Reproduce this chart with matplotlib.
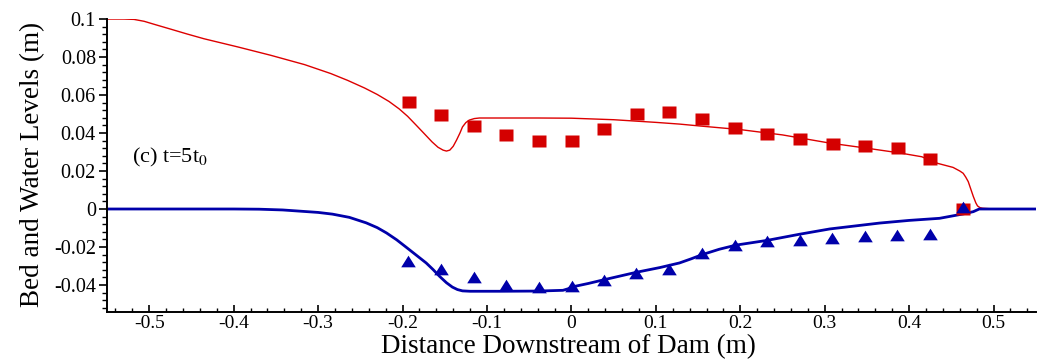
import matplotlib
matplotlib.use("Agg")
import matplotlib.pyplot as plt
from matplotlib.path import Path
from matplotlib.ticker import MultipleLocator, FixedLocator, FixedFormatter

plt.rcParams['font.family'] = ['Liberation Serif', 'DejaVu Serif']
plt.rcParams['mathtext.fontset'] = 'stix'

# Measured water level (squares)
water_x = [-0.192, -0.154, -0.115, -0.077, -0.038, 0.001, 0.039, 0.078, 0.116,
           0.155, 0.194, 0.232, 0.271, 0.310, 0.348, 0.387, 0.425, 0.464]
water_y = [0.0563, 0.0495, 0.0437, 0.0390, 0.0358, 0.0358, 0.0420, 0.0500, 0.0510,
           0.0474, 0.0426, 0.0395, 0.0368, 0.0342, 0.0332, 0.0320, 0.0263, 0.0000]

# Measured bed level (triangles)
bed_x = [-0.193, -0.154, -0.115, -0.077, -0.038, 0.001, 0.039, 0.077, 0.116,
         0.155, 0.194, 0.232, 0.271, 0.309, 0.348, 0.386, 0.425, 0.464]
bed_y = [-0.0274, -0.0316, -0.0358, -0.0400, -0.0410, -0.0405, -0.0374, -0.0337, -0.0316,
         -0.0230, -0.0190, -0.0168, -0.0163, -0.0153, -0.0142, -0.0137, -0.0132, 0.0010]

# Computed water surface (red line)
wl_x = [-0.55, -0.530, -0.518, -0.506, -0.494, -0.474, -0.455, -0.435, -0.395, -0.356,
        -0.316, -0.285, -0.265, -0.245, -0.230, -0.216, -0.204, -0.194, -0.184, -0.175,
        -0.165, -0.158, -0.152, -0.148, -0.144, -0.140, -0.136, -0.132, -0.129, -0.125,
        -0.121, -0.115, -0.109, -0.085, -0.04, 0.0, 0.05, 0.10, 0.128, 0.152, 0.20, 0.25,
        0.306, 0.35, 0.389, 0.415, 0.434, 0.452, 0.460, 0.464, 0.467, 0.470, 0.473, 0.476,
        0.479, 0.481, 0.484, 0.487, 0.50, 0.55]
wl_y = [0.1, 0.1, 0.0998, 0.0988, 0.0972, 0.0946, 0.0921, 0.0896, 0.0853, 0.0809,
        0.0760, 0.0713, 0.0677, 0.0637, 0.0603, 0.0566, 0.0527, 0.0488, 0.0442, 0.0400,
        0.0353, 0.0325, 0.0310, 0.0305, 0.0310, 0.0330, 0.0363, 0.0400, 0.0432, 0.0455,
        0.0468, 0.0476, 0.0479, 0.0479, 0.0479, 0.0478, 0.0470, 0.0456, 0.0447, 0.0437,
        0.0418, 0.0390, 0.0347, 0.0320, 0.0295, 0.0275, 0.0240, 0.0219, 0.0200, 0.0188,
        0.0168, 0.0144, 0.0105, 0.0066, 0.0032, 0.0016, 0.0007, 0.0004, 0.0, 0.0]

# Computed bed (blue line)
bl_x = [-0.55, -0.40, -0.37, -0.342, -0.30, -0.283, -0.263, -0.243, -0.230, -0.219,
        -0.207, -0.196, -0.184, -0.172, -0.164, -0.156, -0.148, -0.141, -0.135, -0.129,
        -0.120, -0.085, -0.04, -0.010, -0.004, 0.001, 0.020, 0.037, 0.077, 0.105, 0.128,
        0.142, 0.155, 0.175, 0.195, 0.232, 0.27, 0.306, 0.365, 0.40, 0.436, 0.464, 0.476,
        0.483, 0.50, 0.55]
bl_y = [0.0, 0.0, -0.0001, -0.0005, -0.0018, -0.0027, -0.0044, -0.0073, -0.0098, -0.0126,
        -0.0162, -0.0200, -0.0242, -0.0284, -0.0318, -0.0355, -0.0388, -0.0411, -0.0424,
        -0.0431, -0.0433, -0.0433, -0.0432, -0.0428, -0.0420, -0.0410, -0.0392, -0.0374,
        -0.0333, -0.0308, -0.0284, -0.0262, -0.0240, -0.0212, -0.0190, -0.0165, -0.0133,
        -0.0105, -0.0074, -0.0060, -0.0049, -0.0026, -0.0014, 0.0, 0.0, 0.0]

xticks = [-0.5, -0.4, -0.3, -0.2, -0.1, 0.0, 0.1, 0.2, 0.3, 0.4, 0.5]
xticklabels = ['-0.5', '-0.4', '-0.3', '-0.2', '-0.1', '0', '0.1', '0.2', '0.3', '0.4', '0.5']
yticks = [-0.04, -0.02, 0.0, 0.02, 0.04, 0.06, 0.08, 0.1]
yticklabels = ['-0.04', '-0.02', '0', '0.02', '0.04', '0.06', '0.08', '0.1']

fig = plt.figure(figsize=(10.41, 3.59), dpi=100)
ax = fig.add_axes([0.1028, 0.131, 0.8922, 0.816])

red_line = '#dd0000'
red_mark = '#d40000'
blue = '#0000aa'

sq = Path([(-1.17, -1), (1.17, -1), (1.17, 1), (-1.17, 1), (-1.17, -1)],
          [Path.MOVETO, Path.LINETO, Path.LINETO, Path.LINETO, Path.CLOSEPOLY])
tri = Path([(-1.0, -0.8), (1.0, -0.8), (0.0, 0.8), (-1.0, -0.8)],
           [Path.MOVETO, Path.LINETO, Path.LINETO, Path.CLOSEPOLY])

ax.plot(wl_x, wl_y, color=red_line, lw=1.0, zorder=2)
ax.plot(bl_x, bl_y, color=blue, lw=2.0, zorder=2, solid_joinstyle='round')
ax.plot(water_x, water_y, ls='none', marker=sq, ms=10.5, color=red_mark, mec='none', zorder=3)
ax.plot(bed_x, bed_y, ls='none', marker=tri, ms=10.5, color=blue, mec='none', zorder=4)

ax.set_xlim(-0.55, 0.55)
ax.set_ylim(-0.0542, 0.1)

ax.xaxis.set_major_locator(FixedLocator(xticks))
ax.xaxis.set_major_formatter(FixedFormatter(xticklabels))
ax.yaxis.set_major_locator(FixedLocator(yticks))
ax.yaxis.set_major_formatter(FixedFormatter(yticklabels))
ax.xaxis.set_minor_locator(MultipleLocator(0.02))
ax.yaxis.set_minor_locator(MultipleLocator(0.004))

for s in ['top', 'right']:
    ax.spines[s].set_visible(False)
for s in ['left', 'bottom']:
    ax.spines[s].set_linewidth(1.4)

ax.tick_params(axis='x', which='major', direction='in', length=5, width=1.2, labelsize=14, pad=2.5)
ax.tick_params(axis='x', which='minor', direction='in', length=2.8, width=1.0)
ax.tick_params(axis='y', which='major', direction='out', length=6, width=1.2, labelsize=14.5, pad=2)
ax.tick_params(axis='y', which='minor', direction='out', length=3.5, width=1.0)

ax.set_xlabel('Distance Downstream of Dam (m)', fontsize=19.5, va='top')
ax.xaxis.set_label_coords(0.497, -0.076)
ax.set_ylabel('Bed and Water Levels (m)', fontsize=19.5)
ax.yaxis.set_label_coords(-0.067, 0.505)

ax.text(-0.52, 0.027, '(c) t=5t$_0$', fontsize=16, ha='left', va='center')

fig.savefig('out.png', dpi=100)
